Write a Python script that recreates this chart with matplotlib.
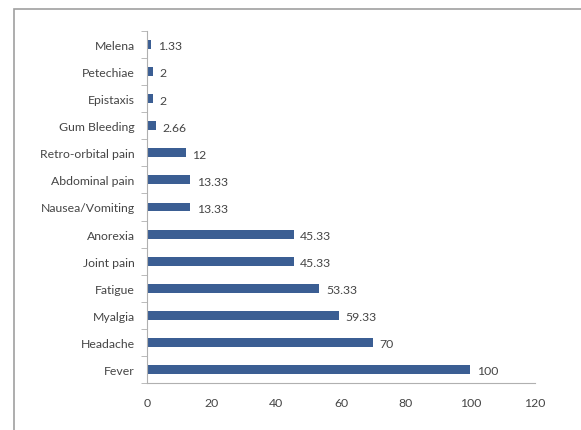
import matplotlib.pyplot as plt
import numpy as np
from matplotlib.patches import Rectangle

# symptoms, bottom to top
symptoms = ["Fever", "Headache", "Myalgia", "Fatigue", "Joint pain", "Anorexia",
            "Nausea/Vomiting", "Abdominal pain", "Retro-orbital pain", "Gum Bleeding",
            "Epistaxis", "Petechiae", "Melena"]
percent = [100, 70, 59.33, 53.33, 45.33, 45.33, 13.33, 13.33, 12, 2.66, 2, 2, 1.33]
value_labels = ["100", "70", "59.33", "53.33", "45.33", "45.33", "13.33", "13.33",
                "12", "2.66", "2", "2", "1.33"]

plt.rcParams['font.family'] = ['Lato', 'DejaVu Sans']

fig = plt.figure(figsize=(5.81, 4.31), dpi=100)
ax = fig.add_axes([147 / 581, 1 - 384 / 431, (535 - 147) / 581, (384 - 32) / 431])

y = np.arange(len(symptoms))
ax.barh(y, percent, height=0.33, color="#3B5E93")
for yi, v, lab in zip(y, percent, value_labels):
    ax.text(v + 2, yi - 0.05, lab, va="center", ha="left", fontsize=8.8, color="#454545")

ax.set_xlim(0, 120)
ax.set_ylim(-0.5, len(symptoms) - 0.5)
ax.set_xticks(range(0, 121, 20))
ax.set_yticks(y)
ax.set_yticklabels(symptoms)
ax.tick_params(axis="both", labelsize=8.8, colors="#454545", length=0, pad=9)
ax.tick_params(axis="x", pad=10)

# boundary tick marks like excel
ax.set_yticks(np.arange(-0.5, len(symptoms), 1), minor=True)
ax.set_xticks(range(0, 121, 20), minor=True)
ax.tick_params(which="minor", length=4, color="#B0B0B0", direction="out")

for s in ["top", "right"]:
    ax.spines[s].set_visible(False)
for s in ["left", "bottom"]:
    ax.spines[s].set_color("#B0B0B0")

# outer chart border
fig.patches.append(Rectangle((14 / 581, -0.01), 1.0, 1 - 10 / 431 + 0.01,
                             transform=fig.transFigure, fill=False,
                             edgecolor="#A0A0A0", linewidth=1.2))

fig.savefig("out.png", dpi=100)
